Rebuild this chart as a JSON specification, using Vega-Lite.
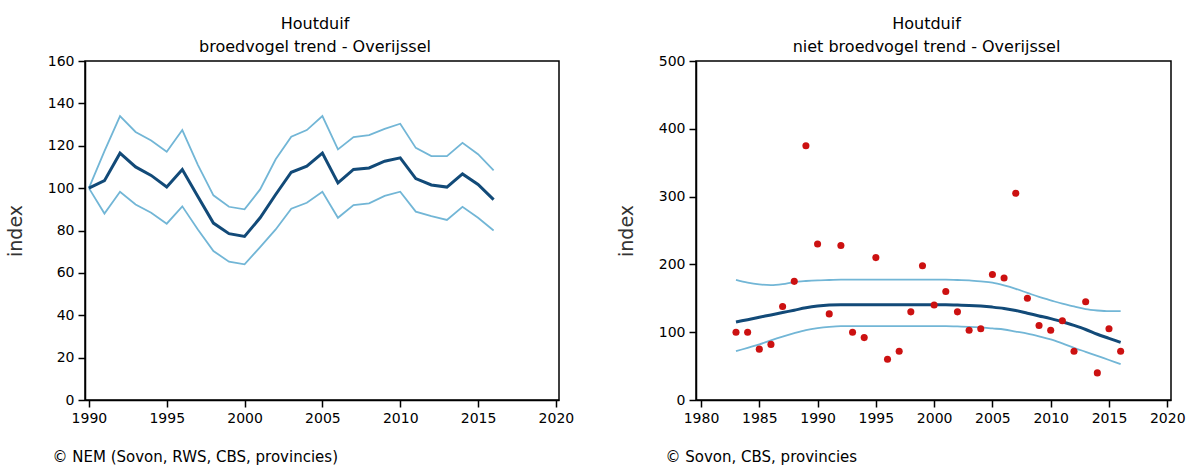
{
  "$schema": "https://vega.github.io/schema/vega-lite/v6.json",
  "background": "white",
  "padding": {"left": 5, "top": 15, "right": 0, "bottom": 0},
  "config": {
    "font": "DejaVu Sans",
    "view": {"stroke": "black", "strokeWidth": 1.5},
    "axis": {
      "labelFont": "DejaVu Sans", "labelFontSize": 14, "labelColor": "black",
      "domainColor": "black", "domainWidth": 1.5, "tickColor": "black", "tickWidth": 1.5,
      "tickSize": 7, "labelPadding": 4, "grid": false,
      "titleFont": "DejaVu Sans", "titleFontWeight": "normal", "titleColor": "#333"
    },
    "title": {"font": "DejaVu Sans", "fontSize": 16, "fontWeight": "normal", "color": "black", "lineHeight": 23, "offset": -1}
  },
  "datasets": {
    "broed": [
      {"year": 1990, "mean": 100, "lower": 100, "upper": 100},
      {"year": 1991, "mean": 103.5, "lower": 88, "upper": 117.5},
      {"year": 1992, "mean": 116.5, "lower": 98.3, "upper": 134},
      {"year": 1993, "mean": 110, "lower": 92.3, "upper": 126.5},
      {"year": 1994, "mean": 106, "lower": 88.4, "upper": 122.5},
      {"year": 1995, "mean": 100.5, "lower": 83.2, "upper": 117.2},
      {"year": 1996, "mean": 108.8, "lower": 91.4, "upper": 127.4},
      {"year": 1997, "mean": 96, "lower": 80.5, "upper": 111},
      {"year": 1998, "mean": 83.5, "lower": 70.3, "upper": 96.6},
      {"year": 1999, "mean": 78.5, "lower": 65.3, "upper": 91.2},
      {"year": 2000, "mean": 77.2, "lower": 64, "upper": 90},
      {"year": 2001, "mean": 86, "lower": 72.2, "upper": 99.4},
      {"year": 2002, "mean": 97, "lower": 80.5, "upper": 113.6},
      {"year": 2003, "mean": 107.5, "lower": 90.3, "upper": 124.3},
      {"year": 2004, "mean": 110.4, "lower": 93.1, "upper": 127.4},
      {"year": 2005, "mean": 116.5, "lower": 98.3, "upper": 134},
      {"year": 2006, "mean": 102.5, "lower": 86, "upper": 118.3},
      {"year": 2007, "mean": 108.8, "lower": 92, "upper": 124.1},
      {"year": 2008, "mean": 109.5, "lower": 92.8, "upper": 125},
      {"year": 2009, "mean": 112.7, "lower": 96.3, "upper": 128},
      {"year": 2010, "mean": 114.3, "lower": 98.3, "upper": 130.4},
      {"year": 2011, "mean": 104.5, "lower": 88.9, "upper": 119},
      {"year": 2012, "mean": 101.5, "lower": 86.8, "upper": 115.1},
      {"year": 2013, "mean": 100.5, "lower": 85, "upper": 115.1},
      {"year": 2014, "mean": 106.7, "lower": 91.2, "upper": 121.4},
      {"year": 2015, "mean": 101.7, "lower": 86, "upper": 116},
      {"year": 2016, "mean": 94.6, "lower": 80, "upper": 108.4}
    ],
    "nietpunten": [
      {"year": 1983, "index": 100}, {"year": 1984, "index": 100}, {"year": 1985, "index": 75},
      {"year": 1986, "index": 82}, {"year": 1987, "index": 138}, {"year": 1988, "index": 175},
      {"year": 1989, "index": 375}, {"year": 1990, "index": 230}, {"year": 1991, "index": 127},
      {"year": 1992, "index": 228}, {"year": 1993, "index": 100}, {"year": 1994, "index": 92},
      {"year": 1995, "index": 210}, {"year": 1996, "index": 60}, {"year": 1997, "index": 72},
      {"year": 1998, "index": 130}, {"year": 1999, "index": 198}, {"year": 2000, "index": 140},
      {"year": 2001, "index": 160}, {"year": 2002, "index": 130}, {"year": 2003, "index": 103},
      {"year": 2004, "index": 105}, {"year": 2005, "index": 185}, {"year": 2006, "index": 180},
      {"year": 2007, "index": 305}, {"year": 2008, "index": 150}, {"year": 2009, "index": 110},
      {"year": 2010, "index": 103}, {"year": 2011, "index": 117}, {"year": 2012, "index": 72},
      {"year": 2013, "index": 145}, {"year": 2014, "index": 40}, {"year": 2015, "index": 105},
      {"year": 2016, "index": 72}
    ],
    "niettrend": [
      {"year": 1983, "mean": 115, "lower": 72, "upper": 177},
      {"year": 1984, "mean": 118.5, "lower": 77, "upper": 173},
      {"year": 1985, "mean": 122, "lower": 82, "upper": 170.5},
      {"year": 1986, "mean": 125.5, "lower": 88, "upper": 169.5},
      {"year": 1987, "mean": 129, "lower": 93.5, "upper": 171},
      {"year": 1988, "mean": 132.5, "lower": 98.5, "upper": 174},
      {"year": 1989, "mean": 136, "lower": 103, "upper": 175.5},
      {"year": 1990, "mean": 138.5, "lower": 106, "upper": 176.5},
      {"year": 1991, "mean": 140, "lower": 108, "upper": 177},
      {"year": 1992, "mean": 140.5, "lower": 109, "upper": 177.5},
      {"year": 1993, "mean": 140.5, "lower": 109, "upper": 177.5},
      {"year": 1994, "mean": 140.5, "lower": 109, "upper": 177.5},
      {"year": 1995, "mean": 140.5, "lower": 109, "upper": 177.5},
      {"year": 1996, "mean": 140.5, "lower": 109, "upper": 177.5},
      {"year": 1997, "mean": 140.5, "lower": 109, "upper": 177.5},
      {"year": 1998, "mean": 140.5, "lower": 109, "upper": 177.5},
      {"year": 1999, "mean": 140.5, "lower": 109, "upper": 177.5},
      {"year": 2000, "mean": 140.5, "lower": 109, "upper": 177.5},
      {"year": 2001, "mean": 140.5, "lower": 109, "upper": 177.5},
      {"year": 2002, "mean": 140, "lower": 108.5, "upper": 177},
      {"year": 2003, "mean": 139.5, "lower": 108, "upper": 176.5},
      {"year": 2004, "mean": 138.5, "lower": 107, "upper": 175},
      {"year": 2005, "mean": 137, "lower": 105.5, "upper": 173},
      {"year": 2006, "mean": 135, "lower": 104, "upper": 169},
      {"year": 2007, "mean": 132, "lower": 101, "upper": 164},
      {"year": 2008, "mean": 128, "lower": 98, "upper": 158},
      {"year": 2009, "mean": 124, "lower": 94, "upper": 152},
      {"year": 2010, "mean": 120, "lower": 89.5, "upper": 147},
      {"year": 2011, "mean": 115.5, "lower": 83.5, "upper": 142},
      {"year": 2012, "mean": 110, "lower": 77, "upper": 138},
      {"year": 2013, "mean": 104, "lower": 71, "upper": 134},
      {"year": 2014, "mean": 97, "lower": 65, "upper": 132},
      {"year": 2015, "mean": 91, "lower": 59, "upper": 131},
      {"year": 2016, "mean": 85, "lower": 53, "upper": 131}
    ]
  },
  "bounds": "flush",
  "spacing": 137,
  "hconcat": [
    {
      "width": 474,
      "height": 339,
      "title": {"text": ["Houtduif", "broedvogel trend - Overijssel"], "dx": -7},
      "data": {"name": "broed"},
      "encoding": {
        "x": {"field": "year", "type": "quantitative",
          "scale": {"domain": [1989.75, 2020.2], "nice": false, "zero": false},
          "axis": {"values": [1990, 1995, 2000, 2005, 2010, 2015, 2020], "format": "d",
            "title": "© NEM (Sovon, RWS, CBS, provincies)", "titleFontSize": 15, "titleColor": "black",
            "titleAnchor": "start", "titleAlign": "left", "titleBaseline": "top", "titleX": -33, "titleY": 49}}
      },
      "layer": [
        {"mark": {"type": "line", "color": "#72b6d6", "strokeWidth": 1.8},
          "encoding": {"y": {"field": "upper", "type": "quantitative",
            "scale": {"domain": [0, 160], "nice": false},
            "axis": {"values": [0, 20, 40, 60, 80, 100, 120, 140, 160], "title": "index", "titleFontSize": 19, "titlePadding": 22}}}},
        {"mark": {"type": "line", "color": "#72b6d6", "strokeWidth": 1.8},
          "encoding": {"y": {"field": "lower", "type": "quantitative"}}},
        {"mark": {"type": "line", "color": "#124a78", "strokeWidth": 3},
          "encoding": {"y": {"field": "mean", "type": "quantitative"}}}
      ]
    },
    {
      "width": 475,
      "height": 339,
      "title": {"text": ["Houtduif", "niet broedvogel trend - Overijssel"], "dx": -7},
      "encoding": {
        "x": {"field": "year", "type": "quantitative",
          "scale": {"domain": [1979.57, 2020.32], "nice": false, "zero": false},
          "axis": {"values": [1980, 1985, 1990, 1995, 2000, 2005, 2010, 2015, 2020], "format": "d",
            "title": "© Sovon, CBS, provincies", "titleFontSize": 15, "titleColor": "black",
            "titleAnchor": "start", "titleAlign": "left", "titleBaseline": "top", "titleX": -31, "titleY": 49}}
      },
      "layer": [
        {"data": {"name": "niettrend"},
          "mark": {"type": "line", "color": "#72b6d6", "strokeWidth": 1.8, "interpolate": "monotone"},
          "encoding": {"y": {"field": "upper", "type": "quantitative",
            "scale": {"domain": [0, 500], "nice": false},
            "axis": {"values": [0, 100, 200, 300, 400, 500], "title": "index", "titleFontSize": 19, "titlePadding": 22}}}},
        {"data": {"name": "niettrend"},
          "mark": {"type": "line", "color": "#72b6d6", "strokeWidth": 1.8, "interpolate": "monotone"},
          "encoding": {"y": {"field": "lower", "type": "quantitative"}}},
        {"data": {"name": "niettrend"},
          "mark": {"type": "line", "color": "#124a78", "strokeWidth": 3, "interpolate": "monotone"},
          "encoding": {"y": {"field": "mean", "type": "quantitative"}}},
        {"data": {"name": "nietpunten"},
          "mark": {"type": "circle", "color": "#cc1111", "opacity": 1, "size": 50},
          "encoding": {"y": {"field": "index", "type": "quantitative"}}}
      ]
    }
  ]
}
